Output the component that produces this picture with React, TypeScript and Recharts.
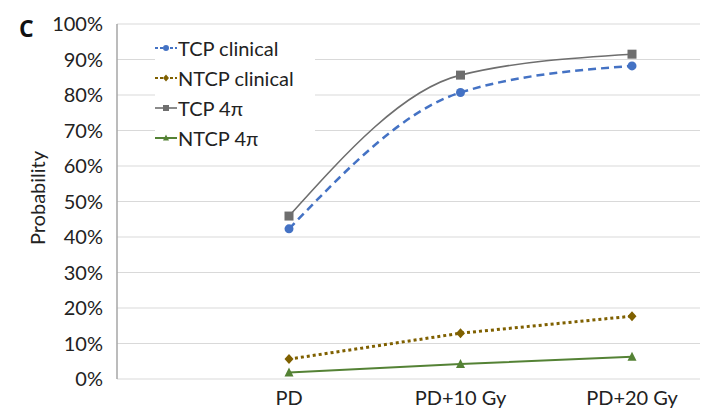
import React from "react";
import {
  CartesianGrid,
  Label,
  Legend,
  Line,
  LineChart,
  XAxis,
  YAxis,
} from "recharts";

// 線量レベル（カテゴリ）と各系列の確率（%）
const categories = ["PD", "PD+10 Gy", "PD+20 Gy"];
const tcpClinical = [42.3, 80.7, 88.2];
const ntcpClinical = [5.6, 12.9, 17.7];
const tcp4pi = [45.9, 85.6, 91.5];
const ntcp4pi = [1.8, 4.2, 6.3];
const yTicks = [0, 10, 20, 30, 40, 50, 60, 70, 80, 90, 100];

const FONT = "Lato, 'Open Sans', sans-serif";

type MarkerShape = "circle" | "diamond" | "square" | "triangle";

interface SeriesDef {
  key: string;
  name: string;
  color: string;
  width: number;
  dash?: string;
  curve: "monotone" | "linear";
  marker: MarkerShape;
}

const series: SeriesDef[] = [
  { key: "tcpClinical", name: "TCP clinical", color: "#4472C4", width: 2.5, dash: "8 5", curve: "monotone", marker: "circle" },
  { key: "ntcpClinical", name: "NTCP clinical", color: "#7F6000", width: 3, dash: "3 3", curve: "linear", marker: "diamond" },
  { key: "tcp4pi", name: "TCP 4π", color: "#6E6E6E", width: 1.6, curve: "monotone", marker: "square" },
  { key: "ntcp4pi", name: "NTCP 4π", color: "#548235", width: 2, curve: "linear", marker: "triangle" },
];

const data = categories.map((c, i) => ({
  category: c,
  tcpClinical: tcpClinical[i],
  ntcpClinical: ntcpClinical[i],
  tcp4pi: tcp4pi[i],
  ntcp4pi: ntcp4pi[i],
}));

function Marker({ cx, cy, shape, color, s = 4.5 }: { cx: number; cy: number; shape: MarkerShape; color: string; s?: number }) {
  if (cx == null || cy == null) return null;
  switch (shape) {
    case "circle":
      return <circle cx={cx} cy={cy} r={s} fill={color} />;
    case "square":
      return <rect x={cx - s} y={cy - s} width={s * 2} height={s * 2} fill={color} />;
    case "diamond":
      return <polygon points={`${cx},${cy - s - 0.5} ${cx + s},${cy} ${cx},${cy + s + 0.5} ${cx - s},${cy}`} fill={color} />;
    case "triangle":
      return <polygon points={`${cx},${cy - s - 0.5} ${cx + s},${cy + s - 0.5} ${cx - s},${cy + s - 0.5}`} fill={color} />;
  }
}

// 凡例は Excel 風に「短い線 + マーカー」を縦に並べる
function LegendContent() {
  return (
    <div style={{ fontFamily: FONT, fontSize: 20, color: "#222", background: "#fff" }}>
      {series.map((s) => (
        <div key={s.key} style={{ display: "flex", alignItems: "center", height: 30 }}>
          <svg width={22} height={12} style={{ marginRight: 1 }}>
            <line x1={0} y1={6} x2={22} y2={6} stroke={s.color} strokeWidth={Math.min(s.width, 2)} strokeDasharray={s.dash ? "3 2" : undefined} />
            <Marker cx={11} cy={6} shape={s.marker} color={s.color} s={3} />
          </svg>
          <span>{s.name}</span>
        </div>
      ))}
    </div>
  );
}

export default function App() {
  return (
    <div style={{ position: "absolute", left: 0, top: 0, width: 708, height: 408, background: "#fff" }}>
      <div
        style={{
          position: "absolute",
          left: 19,
          top: 12,
          fontFamily: "'Open Sans', sans-serif",
          fontWeight: 700,
          fontSize: 23,
          lineHeight: "normal",
          color: "#111",
        }}
      >
        C
      </div>
      <LineChart
        width={708}
        height={408}
        data={data}
        margin={{ top: 24, right: 8, bottom: 0, left: 0 }}
      >
        <CartesianGrid vertical={false} stroke="#d9d9d9" strokeWidth={1} />
        <XAxis
          dataKey="category"
          axisLine={false}
          tickLine={false}
          padding={{ left: 172, right: 68 }}
          height={29}
          tickMargin={6}
          interval={0}
          tick={{ fontSize: 20, fontFamily: FONT, fill: "#222" }}
        />
        <YAxis
          domain={[0, 100]}
          ticks={yTicks}
          tickFormatter={(v) => `${v}%`}
          width={117}
          axisLine={{ stroke: "#a6a6a6", strokeWidth: 1.5 }}
          tickLine={false}
          tickMargin={8}
          interval={0}
          tick={{ fontSize: 20, fontFamily: FONT, fill: "#222" }}
        >
          <Label
            content={() => (
              <text
                x={45}
                y={198}
                transform="rotate(-90, 45, 198)"
                textAnchor="middle"
                fontFamily={FONT}
                fontSize={20}
                fill="#222"
              >
                Probability
              </text>
            )}
          />
        </YAxis>
        <Legend
          layout="vertical"
          align="center"
          verticalAlign="middle"
          content={() => <LegendContent />}
          wrapperStyle={{ left: 155, top: 33, width: 160, height: 120 }}
        />
        {series.map((s) => (
          <Line
            key={s.key}
            type={s.curve}
            dataKey={s.key}
            name={s.name}
            stroke={s.color}
            strokeWidth={s.width}
            strokeDasharray={s.dash}
            dot={(p: any) => <Marker key={`${s.key}-${p.index}`} cx={p.cx} cy={p.cy} shape={s.marker} color={s.color} />}
            activeDot={false}
            isAnimationActive={false}
          />
        ))}
      </LineChart>
    </div>
  );
}
